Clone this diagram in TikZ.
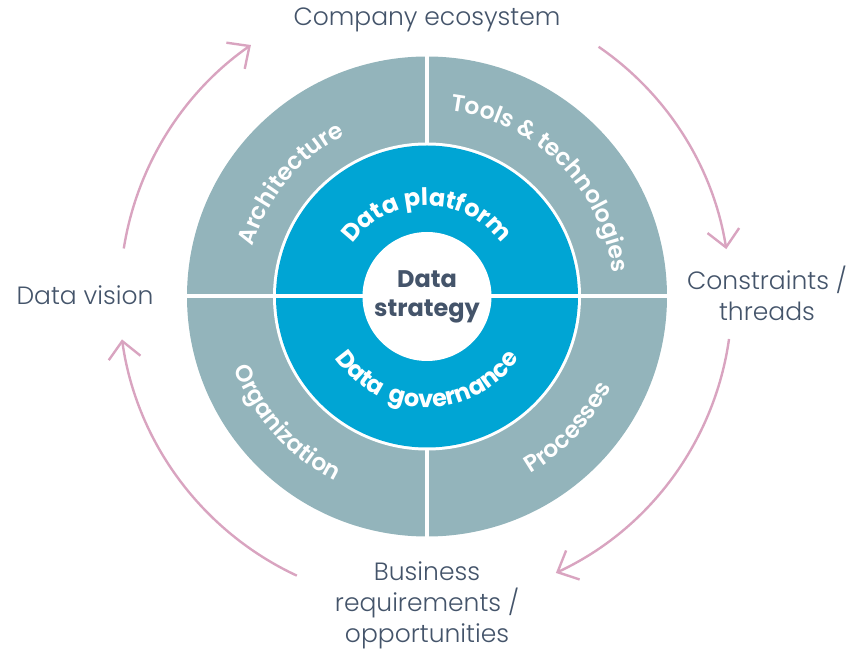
\documentclass[tikz,border=0pt]{standalone}
\usepackage{fontspec}
\setmainfont{Poppins}
\newfontfamily\lightfont{Poppins}[UprightFont={* Light}]
\newfontfamily\ringfont{Poppins}[UprightFont={* SemiBold}]
\usetikzlibrary{arrows.meta,decorations.text,calc}
\definecolor{ringgrey}{RGB}{147,180,187}
\definecolor{ringblue}{RGB}{0,165,212}
\definecolor{arrowpink}{RGB}{217,164,192}
\definecolor{labeltext}{RGB}{68,84,106}

\begin{document}
\begin{tikzpicture}[x=1pt,y=1pt,
    sidelabel/.style={font=\lightfont\fontsize{25}{31}\selectfont,text=labeltext,align=center,inner sep=0pt},
    looparrow/.style={arrowpink,line width=2.4pt,-{Straight Barb[length=17pt,width=32pt]}},
    outertext/.style={decorate,decoration={text along path,text align=center,text color=white,
        text={|\ringfont\fontsize{23.5}{24}\selectfont|#1}}},
    innertext/.style={decorate,decoration={text along path,text align=center,text color=white,
        text={|\bfseries\fontsize{24}{24}\selectfont|#1}}}]
  \useasboundingbox (0,0) rectangle (852,651);
  \coordinate (c) at (427,354.5);
  % rings
  \fill[ringgrey] (c) circle[radius=240];
  \draw[white,line width=4pt] ($(c)+(0,241)$) -- ($(c)+(0,-241)$);
  \fill[white] (c) circle[radius=154];
  \fill[ringblue] (c) circle[radius=151];
  \draw[white,line width=4pt] ($(c)+(-241,0)$) -- ($(c)+(241,0)$);
  \fill[white] (c) circle[radius=64.5];
  % ring texts
  \path[outertext=Architecture] ($(c)+(176:181)$) arc[start angle=176,end angle=105,radius=181];
  \path[outertext={Tools {\&} technologies}] ($(c)+(100:187)$) arc[start angle=100,end angle=-10,radius=187];
  \path[outertext=Organization] ($(c)+(186:206)$) arc[start angle=186,end angle=258,radius=206];
  \path[outertext=Processes] ($(c)+(281:205)$) arc[start angle=281,end angle=353,radius=205];
  \path[innertext={Data platform}] ($(c)+(165:91)$) arc[start angle=165,end angle=15,radius=91];
  \path[innertext={Data {\kern4pt}governance}] ($(c)+(185:111)$) arc[start angle=185,end angle=355,radius=111];
  \node[font=\bfseries\fontsize{24}{29}\selectfont,text=labeltext,align=center] (core) at (c) {Data\\strategy};
  % labels round the wheel
  \node[sidelabel] (eco) at (427,631) {Company ecosystem};
  \node[sidelabel] (vision) at (85,356) {Data vision};
  \node[sidelabel] (limits) at (767,357.5) {Constraints /\\threads};
  \node[sidelabel] (business) at (427,46) {Business\\requirements /\\opportunities};
  % cycle arrows
  \coordinate (a1) at ($(c)+(171:307)$);
  \coordinate (a2) at ($(c)+(55.5:303)$);
  \coordinate (a3) at ($(c)+(-8:305)$);
  \coordinate (a4) at ($(c)+(245:308)$);
  \draw[looparrow] (a1) arc[start angle=171,end angle=125,radius=307];
  \draw[looparrow] (a2) arc[start angle=55.5,end angle=9,radius=303];
  \draw[looparrow] (a3) arc[start angle=-8,end angle=-65,radius=305];
  \draw[looparrow] (a4) arc[start angle=245,end angle=188,radius=308];
\end{tikzpicture}
\end{document}
